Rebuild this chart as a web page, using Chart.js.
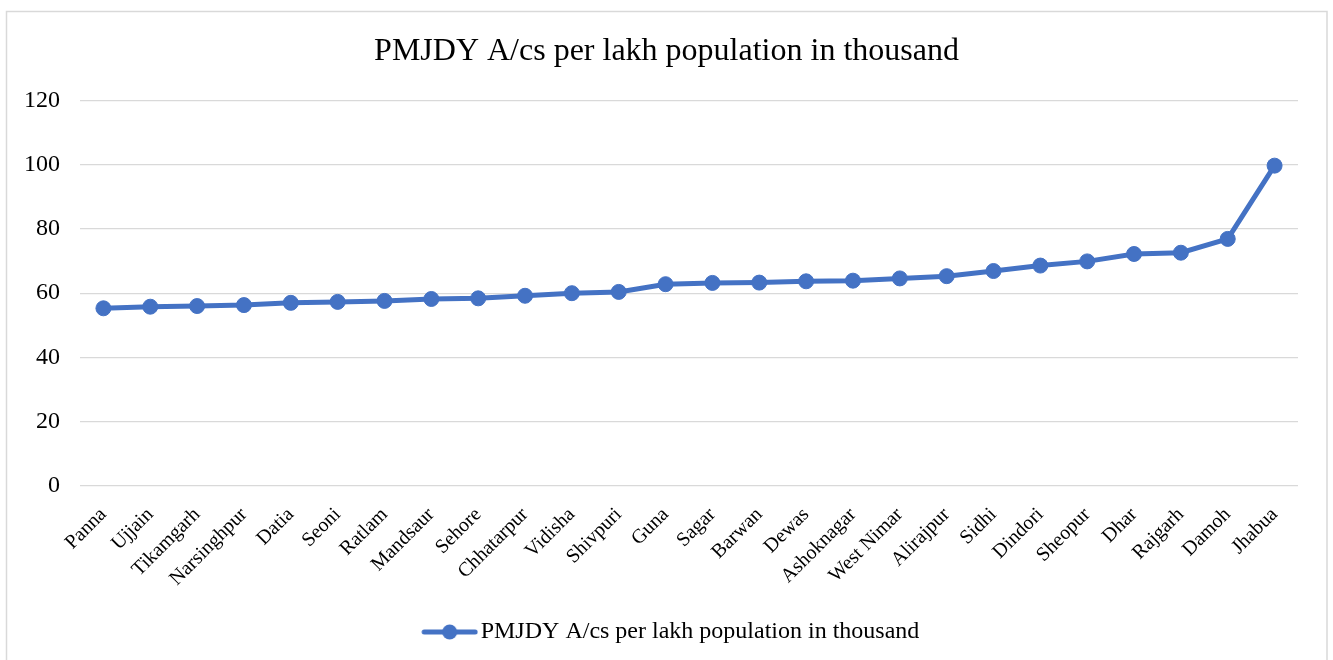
<!DOCTYPE html>
<html>
<head>
<meta charset="utf-8">
<script src="https://cdn.jsdelivr.net/npm/chart.js@4/dist/chart.umd.min.js"></script>
<style>
  html, body { margin: 0; padding: 0; background: #ffffff; }
  #wrap { position: relative; width: 1333px; height: 660px; }
</style>
</head>
<body>
<div id="wrap"><canvas id="chart" width="1333" height="660"></canvas></div>
<script>
// District-wise PMJDY accounts per lakh population (in thousand)
const districts = [
  'Panna', 'Ujjain', 'Tikamgarh', 'Narsinghpur', 'Datia', 'Seoni', 'Ratlam',
  'Mandsaur', 'Sehore', 'Chhatarpur', 'Vidisha', 'Shivpuri', 'Guna', 'Sagar',
  'Barwan', 'Dewas', 'Ashoknagar', 'West Nimar', 'Alirajpur', 'Sidhi',
  'Dindori', 'Sheopur', 'Dhar', 'Rajgarh', 'Damoh', 'Jhabua'
];
const accountsPerLakh = [
  55.3, 55.8, 56.0, 56.3, 57.0, 57.3, 57.6,
  58.2, 58.4, 59.2, 60.0, 60.4, 62.8, 63.2,
  63.3, 63.7, 63.9, 64.6, 65.3, 66.9,
  68.6, 69.9, 72.2, 72.6, 76.9, 99.7
];
const yTicks = [0, 20, 40, 60, 80, 100, 120];

const seriesName = 'PMJDY A/cs per lakh population in thousand';
const BLUE = '#4472c4';
const GRID = '#d9d9d9';
const SERIF = "'Liberation Serif', 'Times New Roman', serif";

// Legend marker: a short line with a dot in the middle
const marker = document.createElement('canvas');
marker.width = 74; marker.height = 18;
(function () {
  const c = marker.getContext('2d');
  c.strokeStyle = BLUE; c.lineWidth = 5; c.lineCap = 'round';
  c.beginPath(); c.moveTo(20, 9); c.lineTo(71, 9); c.stroke();
  c.fillStyle = BLUE;
  c.beginPath(); c.arc(45.5, 9, 7.5, 0, Math.PI * 2); c.fill();
})();

// Thin outer frame around the chart
const framePlugin = {
  id: 'frame',
  beforeDraw(chart) {
    const ctx = chart.ctx;
    ctx.save();
    ctx.strokeStyle = GRID;
    ctx.lineWidth = 1.5;
    ctx.strokeRect(6.5, 11.5, 1320.5, 660);
    ctx.restore();
  }
};

new Chart(document.getElementById('chart'), {
  type: 'line',
  data: {
    labels: districts,
    datasets: [{
      label: seriesName,
      data: accountsPerLakh,
      borderColor: BLUE,
      backgroundColor: BLUE,
      borderWidth: 5,
      pointRadius: 7.5,
      pointHoverRadius: 7.5,
      pointBorderWidth: 1,
      pointBackgroundColor: BLUE,
      pointBorderColor: BLUE,
      tension: 0,
      fill: false
    }]
  },
  options: {
    responsive: false,
    animation: false,
    layout: { padding: { left: 0, right: 0, top: 12, bottom: 6 } },
    plugins: {
      title: {
        display: true,
        text: seriesName,
        color: '#000',
        font: { family: SERIF, size: 32, weight: 'normal' },
        padding: { top: 20, bottom: 30 }
      },
      legend: {
        display: true,
        position: 'bottom',
        labels: {
          usePointStyle: true,
          pointStyleWidth: 55,
          color: '#000',
          font: { family: SERIF, size: 24 },
          padding: 10,
          generateLabels: () => [{
            text: seriesName,
            pointStyle: marker,
            fillStyle: BLUE,
            strokeStyle: BLUE,
            lineWidth: 0,
            datasetIndex: 0,
            hidden: false
          }]
        }
      },
      tooltip: { enabled: false }
    },
    scales: {
      x: {
        type: 'category',
        offset: true,
        grid: { display: false, drawTicks: false },
        border: { display: false },
        ticks: {
          autoSkip: false,
          minRotation: 45,
          maxRotation: 45,
          padding: 17,
          color: '#000',
          font: { family: SERIF, size: 20 }
        },
        afterFit(scale) { scale.height = 124; }
      },
      y: {
        min: 0,
        max: 120,
        afterBuildTicks(scale) { scale.ticks = yTicks.map(v => ({ value: v })); },
        grid: { color: GRID, lineWidth: 1.3, drawTicks: false },
        border: { display: false },
        ticks: {
          padding: 20,
          color: '#000',
          font: { family: SERIF, size: 24 }
        },
        afterFit(scale) { scale.width = 80; }
      },
      // empty right-hand margin axis
      yRight: {
        position: 'right',
        min: 0,
        max: 120,
        grid: { display: false, drawTicks: false },
        border: { display: false },
        ticks: { display: false },
        afterFit(scale) { scale.width = 35; }
      }
    }
  },
  plugins: [framePlugin]
});
</script>
</body>
</html>
